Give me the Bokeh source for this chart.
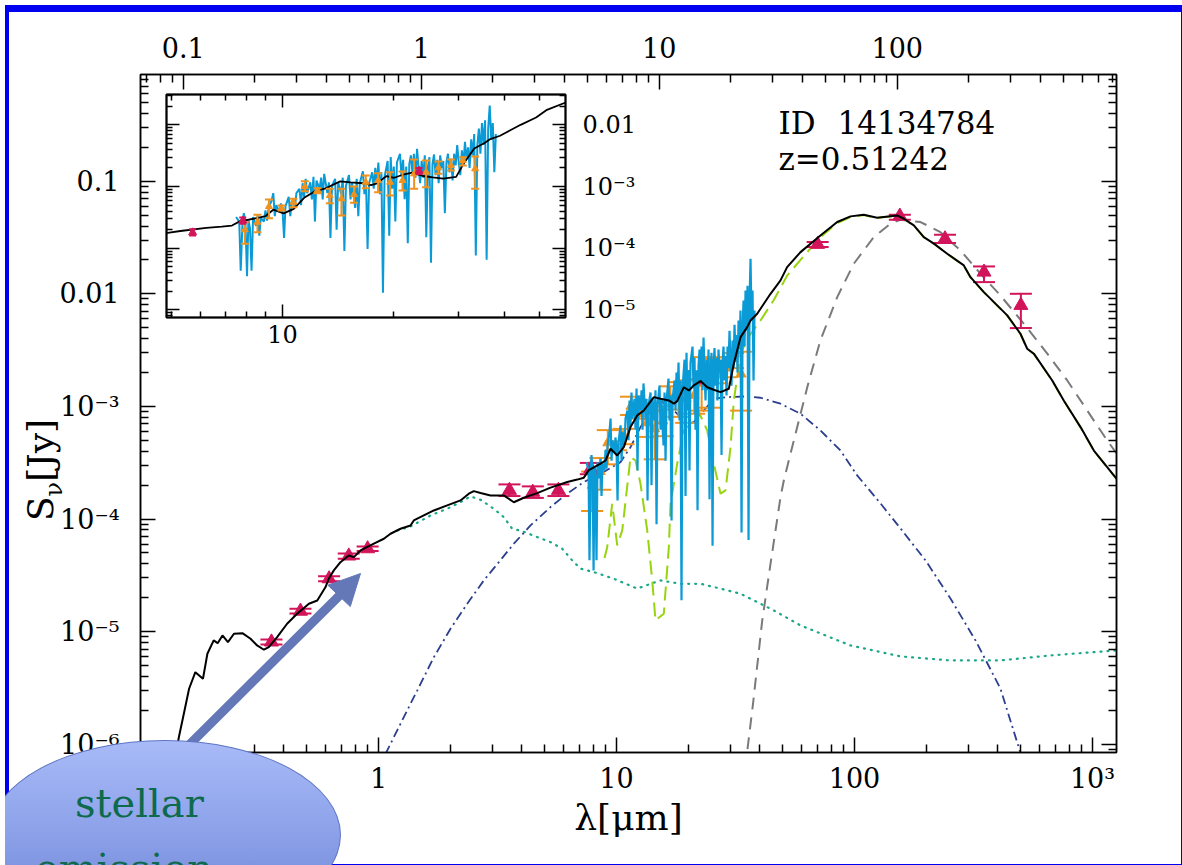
import json

from bokeh.plotting import figure
from bokeh.models import (Range1d, LogScale, LogAxis, FixedTicker, CustomJSTickFormatter,
                          Label, Arrow, NormalHead, Div)
from bokeh.layouts import column
from bokeh.embed import file_html
from bokeh.resources import INLINE

REDSHIFT = 0.51242
SOURCE_ID = "14134784"

# ---------------------------------------------------------------- model SED (total)
wl_model = [0.135, 0.145, 0.151, 0.160, 0.170, 0.183, 0.191, 0.203, 0.211, 0.221, 0.233, 0.247,
            0.268, 0.290, 0.309, 0.330, 0.346, 0.375, 0.413, 0.455, 0.510, 0.553, 0.599, 0.618,
            0.649, 0.692, 0.750, 0.788, 0.840, 0.956, 1.053, 1.123, 1.237, 1.363, 1.407, 1.55,
            1.708, 1.944, 2.211, 2.395, 2.514, 2.684, 2.955, 3.361, 3.703, 4.078, 4.644, 5.28,
            6.21, 6.84, 7.29, 7.65, 8.57, 8.99, 9.44, 10.07, 10.73, 11.45, 12.22, 13.02, 14.35,
            15.3, 16.59, 17.41, 17.99, 19.18, 20.13, 21.12, 22.54, 24.05, 25.63, 27.35, 29.64,
            31.11, 33.19, 35.41, 36.56, 39.0, 41.59, 44.37, 48.87, 52.1, 59.3, 71.9, 84.6, 96.2,
            109.3, 124.5, 151.1, 161.1, 177.5, 195.5, 215.5, 245.2, 287.9, 307.0, 349.5, 438.2,
            497.9, 531.6, 566.7, 677.2, 757.0, 890.6, 1013.0, 1229.0, 1300.0]
s_total = [5.0e-7, 1.16e-6, 1.74e-6, 3.11e-6, 4.37e-6, 3.82e-6, 6.37e-6, 8.36e-6, 7.9e-6, 9.25e-6,
           8.07e-6, 9.58e-6, 9.7e-6, 8.65e-6, 7.54e-6, 6.91e-6, 7.29e-6, 8.94e-6, 1.175e-5, 1.44e-5,
           1.77e-5, 1.89e-5, 2.49e-5, 2.95e-5, 3.5e-5, 4.14e-5, 4.75e-5, 4.59e-5, 5.26e-5, 6.04e-5,
           6.68e-5, 7.4e-5, 8.2e-5, 8.77e-5, 9.72e-5, 1.076e-4, 1.192e-4, 1.321e-4, 1.463e-4,
           1.678e-4, 1.77e-4, 1.70e-4, 1.62e-4, 1.62e-4, 1.41e-4, 1.545e-4, 1.70e-4, 1.90e-4,
           2.13e-4, 2.24e-4, 2.33e-4, 2.72e-4, 3.10e-4, 3.31e-4, 4.21e-4, 3.67e-4, 4.35e-4,
           6.55e-4, 8.32e-4, 9.2e-4, 1.21e-3, 1.17e-3, 1.13e-3, 1.057e-3, 1.114e-3, 1.48e-3,
           1.386e-3, 1.537e-3, 1.68e-3, 1.48e-3, 1.405e-3, 1.34e-3, 1.435e-3, 2.39e-3, 4.12e-3,
           5.06e-3, 5.8e-3, 6.65e-3, 8.17e-3, 1.0e-2, 1.316e-2, 1.726e-2, 2.345e-2, 3.3e-2,
           4.34e-2, 4.87e-2, 5.04e-2, 4.74e-2, 4.97e-2, 4.64e-2, 4.05e-2, 3.19e-2, 2.79e-2,
           2.27e-2, 1.787e-2, 1.406e-2, 1.035e-2, 6.43e-3, 4.42e-3, 3.25e-3, 2.94e-3, 1.70e-3,
           1.13e-3, 6.55e-4, 4.06e-4, 2.44e-4, 2.1e-4]

# stellar component
wl_stellar = [1.20, 1.363, 1.654, 1.944, 2.211, 2.435, 2.684, 3.051, 3.361, 3.646, 4.017, 4.644,
              5.28, 5.914, 6.516, 7.06, 8.03, 9.74, 12.22, 13.9, 15.3, 18.57, 22.54, 27.35, 33.19,
              40.27, 45.8, 59.3, 96.2, 156.0, 253.0, 410.0, 666.0, 1262.0]
s_stellar = [7.9e-5, 8.6e-5, 1.076e-4, 1.234e-4, 1.413e-4, 1.587e-4, 1.483e-4, 1.234e-4, 1.04e-4,
             8.2e-5, 7.81e-5, 6.91e-5, 6.24e-5, 5.45e-5, 4.29e-5, 3.62e-5, 3.38e-5, 2.95e-5,
             2.41e-5, 2.66e-5, 2.85e-5, 2.66e-5, 2.66e-5, 2.41e-5, 2.17e-5, 1.77e-5, 1.543e-5,
             1.136e-5, 7.54e-6, 6.03e-6, 5.55e-6, 5.55e-6, 6.15e-6, 6.81e-6]

# AGN torus component
wl_torus = [1.07, 1.237, 1.454, 1.708, 2.007, 2.359, 2.77, 3.203, 3.703, 4.352, 5.28, 6.207, 7.29,
            8.567, 10.39, 11.45, 12.61, 13.9, 15.3, 17.41, 19.82, 21.12, 23.27, 25.63, 29.18, 35.41,
            40.27, 48.87, 59.3, 71.9, 87.3, 102.6, 128.6, 156.0, 198.8, 253.0, 322.4, 410.0, 498.0,
            576.0]
s_torus = [8.2e-7, 1.52e-6, 3.0e-6, 5.93e-6, 1.062e-5, 1.77e-5, 2.85e-5, 4.14e-5, 6.04e-5, 8.77e-5,
           1.277e-4, 1.68e-4, 2.13e-4, 2.52e-4, 3.2e-4, 4.35e-4, 6.55e-4, 9.2e-4, 1.13e-3, 9.2e-4,
           7.02e-4, 7.26e-4, 9.2e-4, 1.17e-3, 1.21e-3, 1.227e-3, 1.194e-3, 1.057e-3, 8.61e-4,
           6.12e-4, 4.06e-4, 2.44e-4, 1.375e-4, 8.25e-5, 4.29e-5, 1.97e-5, 8.36e-6, 3.13e-6,
           8.4e-7, 4.0e-7]

# star-forming (PAH + warm dust) component
wl_sf = [8.9, 9.14, 9.59, 10.07, 10.57, 11.45, 12.02, 12.61, 13.46, 14.13, 14.58, 15.8, 16.59, 16.86,
         17.99, 19.18, 20.46, 22.18, 24.05, 25.63, 27.35, 28.71, 30.13, 31.11, 33.19, 35.41, 40.27,
         45.8, 52.1, 59.3, 71.9, 84.6, 96.2, 109.3, 124.5, 151.1, 161.1, 177.5, 195.5, 215.5, 245.2,
         287.9, 307.0, 349.5, 438.2, 497.9, 531.6, 566.7, 677.2, 757.0, 890.6, 1013.0, 1229.0, 1300.0]
s_sf = [4.5e-5, 5.63e-5, 1.367e-4, 5.83e-5, 7.92e-5, 3.55e-4, 3.31e-4, 2.06e-4, 7.92e-5, 2.85e-5,
        1.257e-5, 1.442e-5, 5.63e-5, 1.367e-4, 3.1e-4, 6.12e-4, 7.02e-4, 8.9e-4, 6.12e-4, 3.1e-4,
        1.68e-4, 1.795e-4, 4.35e-4, 1.13e-3, 2.9e-3, 4.0e-3, 5.8e-3, 8.8e-3, 1.45e-2, 2.0e-2,
        3.2e-2, 4.25e-2, 4.8e-2, 5.0e-2, 4.72e-2, 4.93e-2, 4.62e-2, 4.03e-2, 3.18e-2, 2.78e-2,
        2.26e-2, 1.78e-2, 1.40e-2, 1.03e-2, 6.4e-3, 4.4e-3, 3.24e-3, 2.93e-3, 1.69e-3, 1.125e-3,
        6.5e-4, 4.04e-4, 2.43e-4, 2.1e-4]

# cold dust component
wl_cold = [34.5, 35.35, 37.46, 40.95, 44.37, 48.87, 50.46, 55.6, 63.3, 71.9, 84.6, 99.3, 120.5,
           141.6, 156.0, 189.3, 229.6, 278.6, 338.0, 410.0, 514.0, 645.6, 783.0, 950.0, 1152.0,
           1262.0]
s_cold = [4.0e-7, 8.4e-7, 2.29e-6, 1.257e-5, 4.01e-5, 1.565e-4, 2.2e-4, 4.99e-4, 1.48e-3, 3.86e-3,
          9.35e-3, 1.85e-2, 3.19e-2, 4.2e-2, 4.55e-2, 4.34e-2, 3.53e-2, 2.43e-2, 1.51e-2, 9.68e-3,
          5.43e-3, 2.94e-3, 1.7e-3, 9.2e-4, 4.99e-4, 3.82e-4]

# ---------------------------------------------------------------- IRS spectrum
wl_spec = [7.48, 7.63, 7.70, 7.78, 7.85, 7.93, 8.01, 8.08, 8.16, 8.24, 8.32, 8.48, 8.57, 8.65, 8.73,
           8.90, 8.99, 9.08, 9.17, 9.34, 9.44, 9.53, 9.62, 9.81, 9.90, 10.00, 10.10, 10.19, 10.40,
           10.50, 10.60, 10.81, 10.91, 11.12, 11.23, 11.34, 11.45, 11.56, 11.67, 11.90, 12.02,
           12.14, 12.25, 12.37, 12.61, 12.74, 12.86, 12.98, 13.24, 13.37, 13.50, 13.63, 13.90,
           14.03, 14.17, 14.44, 14.58, 14.73, 14.87, 15.16, 15.31, 15.45, 15.76, 15.91, 16.07,
           16.22, 16.54, 16.70, 16.86, 17.03, 17.19, 17.53, 17.70, 17.87, 18.04, 18.22, 18.40,
           18.57, 18.75, 18.94, 19.31, 19.50, 19.68, 19.87, 20.07, 20.26, 20.46, 20.86, 21.06,
           21.27, 21.47, 21.69, 21.90, 22.11, 22.33, 22.54, 22.76, 22.98, 23.21, 23.43, 23.66,
           23.89, 24.12, 24.36, 24.59, 24.83, 25.07, 25.32, 25.56, 25.81, 26.06, 26.32, 26.57,
           26.83, 27.09, 27.35, 27.62, 27.89, 28.16, 28.43, 28.71, 28.99, 29.27, 29.55, 29.84,
           30.13, 30.42, 30.72, 31.02, 31.32, 31.62, 31.94, 32.24, 32.56, 32.87, 33.19, 33.52,
           33.84, 34.17, 34.50, 34.84, 35.18, 35.52, 35.87, 36.22, 36.57, 36.92, 37.28, 37.64,
           38.0]
s_spec = [3.2e-4, 2.7e-4, 4.3e-5, 2.3e-4, 3.7e-4, 2.7e-4, 3.5e-5, 2.9e-4, 2.1e-4, 4.3e-5, 3.2e-4,
          2.3e-4, 3.45e-4, 1.6e-4, 3.1e-4, 2.7e-4, 4.1e-4, 2.8e-4, 4.5e-4, 5.9e-4, 7.8e-4, 3.3e-4,
          5.0e-4, 3.9e-4, 5.3e-4, 4.2e-4, 1.46e-4, 4.8e-4, 6.8e-4, 3.3e-4, 5.9e-4, 4.5e-4, 7.8e-4,
          9.2e-4, 5.0e-4, 1.13e-3, 6.8e-4, 1.33e-3, 7.8e-4, 1.17e-3, 6.2e-4, 1.44e-3, 2.7e-4,
          1.25e-3, 9.2e-4, 1.39e-3, 6.2e-4, 1.6e-3, 7.8e-4, 1.17e-3, 1.46e-4, 1.02e-3, 1.33e-3,
          2.0e-4, 1.17e-3, 7.5e-4, 1.39e-3, 9.0e-5, 1.02e-3, 1.53e-3, 6.2e-4, 1.17e-3, 4.5e-4,
          1.33e-3, 3.3e-4, 1.13e-3, 1.77e-3, 7.5e-4, 1.25e-3, 9.7e-5, 1.13e-3, 1.7e-3, 9.2e-4,
          2.0e-3, 1.13e-3, 2.45e-3, 7.5e-4, 1.7e-3, 1.9e-5, 1.44e-3, 2.6e-3, 1.6e-4, 3.0e-3,
          9.2e-4, 2.1e-3, 2.7e-4, 2.45e-3, 3.4e-3, 1.44e-3, 2.7e-3, 6.2e-4, 2.1e-3, 1.2e-4, 2.3e-3,
          3.2e-3, 1.7e-3, 3.4e-3, 1.39e-3, 4.1e-3, 2.0e-3, 1.13e-3, 2.6e-3, 1.39e-3, 3.2e-3,
          1.5e-4, 2.0e-3, 3.0e-3, 5.8e-5, 2.3e-3, 3.3e-3, 1.53e-3, 2.7e-3, 1.13e-3, 3.2e-3, 2.0e-3,
          2.6e-3, 3.7e-4, 2.45e-3, 3.4e-3, 1.7e-3, 2.8e-3, 1.25e-3, 3.4e-3, 2.2e-3, 4.7e-3,
          2.45e-3, 1.53e-3, 3.85e-3, 2.2e-3, 5.3e-3, 2.8e-3, 4.3e-3, 2.0e-3, 5.8e-3, 3.2e-3,
          7.1e-3, 7.6e-5, 4.7e-3, 8.7e-3, 3.4e-3, 1.07e-2, 4.7e-3, 1.18e-2, 6.5e-5, 8.7e-3,
          2.05e-2, 5.8e-3, 1.07e-2, 1.7e-3, 7.1e-3]

# binned spectrum with uncertainties
wl_bins = [7.90, 8.55, 9.19, 9.94, 10.71, 11.50, 12.45, 13.45, 14.46, 15.65, 16.84, 18.19, 19.61,
           21.19, 22.79, 24.56, 26.53, 28.67, 30.90, 33.38]
s_bins = [1.99e-4, 2.64e-4, 4.74e-4, 4.45e-4, 5.57e-4, 1.0e-3, 8.61e-4, 7.15e-4, 6.32e-4, 7.42e-4,
          1.174e-3, 1.252e-3, 1.174e-3, 1.252e-3, 1.606e-3, 1.705e-3, 2.01e-3, 2.19e-3, 2.64e-3,
          1.936e-3]
s_bins_lo = [1.18e-4, 1.82e-4, 3.06e-4, 4.08e-4, 4.62e-4, 8.39e-4, 7.79e-4, 5.36e-4, 3.39e-4,
             5.44e-4, 9.39e-4, 8.08e-4, 7.15e-4, 8.61e-4, 9.18e-4, 9.74e-4, 1.606e-3, 1.816e-3,
             2.19e-3, 9.18e-4]
s_bins_hi = [2.64e-4, 3.48e-4, 6.16e-4, 4.9e-4, 6.32e-4, 1.22e-3, 9.39e-4, 9.18e-4, 9.18e-4, 1.0e-3,
             1.508e-3, 1.643e-3, 1.705e-3, 1.75e-3, 2.74e-3, 2.64e-3, 2.54e-3, 2.74e-3, 2.98e-3,
             3.06e-3]

# broad-band photometry
wl_phot = [0.355, 0.47, 0.62, 0.75, 0.90, 3.55, 4.45, 5.7, 7.8, 23.5, 70.0, 155.0, 240.0, 350.0, 500.0]
s_phot = [8.1e-6, 1.52e-5, 2.95e-5, 4.7e-5, 5.45e-5, 1.8e-4, 1.73e-4, 1.8e-4, 2.8e-4, 1.8e-3,
          2.75e-2, 4.9e-2, 3.08e-2, 1.56e-2, 7.9e-3]
s_phot_lo = [7.7e-6, 1.45e-5, 2.8e-5, 4.45e-5, 5.2e-5, 1.6e-4, 1.54e-4, 1.6e-4, 2.5e-4, 1.6e-3,
             2.61e-2, 4.55e-2, 2.82e-2, 1.27e-2, 4.96e-3]
s_phot_hi = [8.5e-6, 1.6e-5, 3.1e-5, 4.95e-5, 5.7e-5, 2.03e-4, 1.95e-4, 2.03e-4, 3.15e-4, 2.0e-3,
             2.89e-2, 5.04e-2, 3.35e-2, 1.75e-2, 1.0e-2]

# axis ticks and labels
obs_ticks = [1, 10, 100, 1000]
obs_labels = ["1", "10", "100", "10³"]
rest_ticks = [0.1, 1, 10, 100]
rest_labels = ["0.1", "1", "10", "100"]
flux_ticks = [1e-6, 1e-5, 1e-4, 1e-3, 1e-2, 1e-1]
flux_labels = ["10⁻⁶", "10⁻⁵", "10⁻⁴", "10⁻³", "0.01", "0.1"]
inset_x_ticks = [10]
inset_x_labels = ["10"]
inset_x_minor = [5, 6, 7, 8, 9, 20, 30, 40, 50]
inset_flux_ticks = [1e-5, 1e-4, 1e-3, 1e-2]
inset_flux_labels = ["10⁻⁵", "10⁻⁴", "10⁻³", "0.01"]

# ---------------------------------------------------------------- styling
SERIF = "DejaVu Serif"
C_TOTAL = "black"
C_STELLAR = "#1ba888"
C_TORUS = "#2c3f8c"
C_SF = "#96d40e"
C_COLD = "#7a7a7a"
C_SPEC = "#0a9ad6"
C_BINS = "#f0921e"
C_PHOT = "#d2145a"
C_ARROW = "#6477b6"
C_FRAME = "#0000f0"


def tick_labels(values, texts):
    code = (
        "const v = %s;\nconst s = %s;\n"
        "for (let i = 0; i < v.length; i++) {\n"
        "  if (Math.abs(Math.log10(tick) - Math.log10(v[i])) < 1e-6) return s[i];\n"
        "}\nreturn '';"
    ) % (json.dumps(values), json.dumps(texts))
    return CustomJSTickFormatter(code=code)


def no_labels():
    return CustomJSTickFormatter(code="return '';")


def decade_minors(lo_exp, hi_exp):
    return [m * 10.0 ** e for e in range(lo_exp, hi_exp + 1) for m in range(2, 10)]


def style_axis(ax, major_len, minor_len, font_size, standoff, width=1.5):
    ax.major_tick_in = major_len
    ax.major_tick_out = 0
    ax.minor_tick_in = minor_len
    ax.minor_tick_out = 0
    ax.axis_line_color = "black"
    ax.axis_line_width = width
    ax.major_tick_line_color = "black"
    ax.major_tick_line_width = width
    ax.minor_tick_line_color = "black"
    ax.minor_tick_line_width = width
    ax.major_label_text_font = SERIF
    ax.major_label_text_font_size = font_size
    ax.major_label_text_color = "black"
    ax.major_label_standoff = standoff


def draw_errorbars(fig, wl, lo, hi, color, cap, width):
    fig.segment(x0=wl, y0=lo, x1=wl, y1=hi, line_color=color, line_width=width)
    fig.scatter(wl, lo, marker="dash", size=cap, line_color=color, line_width=width)
    fig.scatter(wl, hi, marker="dash", size=cap, line_color=color, line_width=width)


# ---------------------------------------------------------------- main panel
X_START, X_END = 0.1, 1261.0
p = figure(width=1182, height=865, x_axis_type="log", y_axis_type="log",
           x_range=Range1d(X_START, X_END), y_range=Range1d(8.45e-7, 0.886),
           min_border_left=140, min_border_right=66, min_border_top=74, min_border_bottom=113,
           output_backend="svg", toolbar_location=None)
p.frame_align = False
p.background_fill_color = "white"
p.border_fill_color = "white"
p.outline_line_color = "black"
p.outline_line_width = 1.5
p.xgrid.visible = False
p.ygrid.visible = False

p.extra_x_ranges = {"rest": Range1d(X_START / (1 + REDSHIFT), X_END / (1 + REDSHIFT))}
p.extra_x_scales = {"rest": LogScale()}

xb = p.below[0]
xb.ticker = FixedTicker(ticks=obs_ticks, minor_ticks=decade_minors(-1, 3))
xb.formatter = tick_labels(obs_ticks, obs_labels)
style_axis(xb, 15, 8, "27px", 10)
xb.axis_label = "λ[μm]"
xb.axis_label_text_font = SERIF
xb.axis_label_text_font_size = "36px"
xb.axis_label_text_font_style = "normal"
xb.axis_label_text_color = "black"
xb.axis_label_standoff = 0

yl = p.left[0]
yl.ticker = FixedTicker(ticks=flux_ticks, minor_ticks=decade_minors(-7, -1))
yl.formatter = tick_labels(flux_ticks, flux_labels)
style_axis(yl, 15, 8, "27px", 21)

xtop = LogAxis(x_range_name="rest",
               ticker=FixedTicker(ticks=rest_ticks, minor_ticks=decade_minors(-2, 2)),
               formatter=tick_labels(rest_ticks, rest_labels))
style_axis(xtop, 15, 8, "27px", 17)
p.add_layout(xtop, "above")

yr = LogAxis(ticker=FixedTicker(ticks=flux_ticks, minor_ticks=decade_minors(-7, -1)),
             formatter=no_labels())
style_axis(yr, 15, 8, "1px", 0)
p.add_layout(yr, "right")

# components
p.line(wl_stellar, s_stellar, line_color=C_STELLAR, line_width=2.2, line_dash="1 6", line_cap="round")
p.line(wl_torus, s_torus, line_color=C_TORUS, line_width=1.8, line_dash="9 4 2 4")
p.line(wl_sf, s_sf, line_color=C_SF, line_width=2.0, line_dash="14 7")
p.line(wl_cold, s_cold, line_color=C_COLD, line_width=2.0, line_dash="12 8")

# binned spectrum and photometry sit beneath the spectrum and the total model
draw_errorbars(p, wl_bins, s_bins_lo, s_bins_hi, C_BINS, 22, 2)
p.scatter(wl_bins, s_bins, marker="triangle", size=10, fill_color=C_BINS, line_color=C_BINS)
draw_errorbars(p, wl_phot, s_phot_lo, s_phot_hi, C_PHOT, 22, 2)
p.scatter(wl_phot, s_phot, marker="triangle", size=14, fill_color=C_PHOT, line_color=C_PHOT)
p.line(wl_spec, s_spec, line_color=C_SPEC, line_width=2.2)
p.line(wl_model, s_total, line_color=C_TOTAL, line_width=2.0)

# source identification
for txt, x, y in [("ID", 638, 630), (SOURCE_ID, 697, 630), ("z=%s" % REDSHIFT, 638, 594)]:
    p.add_layout(Label(x=x, y=y, x_units="screen", y_units="screen", text=txt,
                       text_font=SERIF, text_font_size="31px", text_color="black",
                       text_align="left", text_baseline="alphabetic"))

# call-out arrow
p.add_layout(Arrow(x_start=45, y_start=4, x_end=199, y_end=157, start_units="screen",
                   end_units="screen", line_color=C_ARROW, line_width=9, end=None))
p.add_layout(Arrow(x_start=198, y_start=156, x_end=220, y_end=179, start_units="screen",
                   end_units="screen", line_alpha=0,
                   end=NormalHead(size=31, fill_color=C_ARROW, line_color=C_ARROW, line_width=1)))

# ---------------------------------------------------------------- inset (zoom on the IRS range)
ins = figure(width=509, height=283, x_axis_type="log", y_axis_type="log",
             x_range=Range1d(4.84, 58.75), y_range=Range1d(7.53e-6, 0.031),
             min_border_left=20, min_border_right=90, min_border_top=20, min_border_bottom=40,
             output_backend="svg", toolbar_location=None,
             styles={"position": "absolute", "left": "146px", "top": "74px"})
ins.frame_align = False
ins.border_fill_color = None
ins.background_fill_color = "white"
ins.outline_line_color = "black"
ins.outline_line_width = 2
ins.xgrid.visible = False
ins.ygrid.visible = False

ib = ins.below[0]
ib.ticker = FixedTicker(ticks=inset_x_ticks, minor_ticks=inset_x_minor)
ib.formatter = tick_labels(inset_x_ticks, inset_x_labels)
style_axis(ib, 13, 6, "24px", 7)

il = ins.left[0]
il.ticker = FixedTicker(ticks=inset_flux_ticks, minor_ticks=decade_minors(-6, -2))
il.formatter = no_labels()
style_axis(il, 13, 6, "1px", 0)

ir = LogAxis(ticker=FixedTicker(ticks=inset_flux_ticks, minor_ticks=decade_minors(-6, -2)),
             formatter=tick_labels(inset_flux_ticks, inset_flux_labels))
style_axis(ir, 13, 6, "24px", 17)
ins.add_layout(ir, "right")

it = LogAxis(ticker=FixedTicker(ticks=inset_x_ticks, minor_ticks=inset_x_minor), formatter=no_labels())
style_axis(it, 13, 6, "1px", 0)
ins.add_layout(it, "above")

ins.line(wl_spec, s_spec, line_color=C_SPEC, line_width=2.0)
ins.line(wl_model, s_total, line_color=C_TOTAL, line_width=1.8)
draw_errorbars(ins, wl_bins, s_bins_lo, s_bins_hi, C_BINS, 8, 2)
ins.scatter(wl_bins, s_bins, marker="triangle", size=7, fill_color=C_BINS, line_color=C_BINS)
draw_errorbars(ins, wl_phot, s_phot_lo, s_phot_hi, C_PHOT, 7, 2)
ins.scatter(wl_phot, s_phot, marker="triangle", size=8, fill_color=C_PHOT, line_color=C_PHOT)

# ---------------------------------------------------------------- y-axis title, slide frame, call-out bubble
ytitle = Div(
    text=('<div style="font-family:\'DejaVu Serif\'; font-size:36px; line-height:40px; '
          'color:black; white-space:nowrap; text-align:center; width:130px;">'
          'S<span style="font-size:24px; position:relative; top:9px;">ν</span>[Jy]</div>'),
    width=130, height=40,
    styles={"position": "absolute", "left": "-29px", "top": "445px", "transform": "rotate(-90deg)"})


def band(left, top, w, h):
    return Div(text="", width=w, height=h,
               styles={"position": "absolute", "left": "%dpx" % left, "top": "%dpx" % top,
                       "background-color": C_FRAME})


bands = [band(0, 0, 1182, 7), band(0, 0, 4, 865), band(1176, 0, 6, 865), band(0, 859, 1182, 6)]

bubble_html = (
    '<div style="position:absolute; left:-16px; top:5px; width:352px; height:190px; '
    'border-radius:50%; box-sizing:border-box; border:1.5px solid #5d74c2; '
    'background:linear-gradient(to bottom, #a8baf7 0%, #8ea3ea 45%, #6b82d4 100%);"></div>'
    '<div style="position:absolute; left:70px; top:48px; font-family:\'DejaVu Serif\'; '
    'font-size:40px; line-height:40px; color:#0e6a4d; white-space:nowrap;">stellar</div>'
    '<div style="position:absolute; left:30px; top:113px; font-family:\'DejaVu Serif\'; '
    'font-size:40px; line-height:40px; color:#0e6a4d; white-space:nowrap;">emission</div>'
)
bubble = Div(text=bubble_html, width=345, height=135,
             styles={"position": "absolute", "left": "0px", "top": "730px", "overflow": "hidden"})

root = column(p, ins, ytitle, *bands, bubble)

with open("out.html", "w") as f:
    f.write(file_html(root, INLINE))
